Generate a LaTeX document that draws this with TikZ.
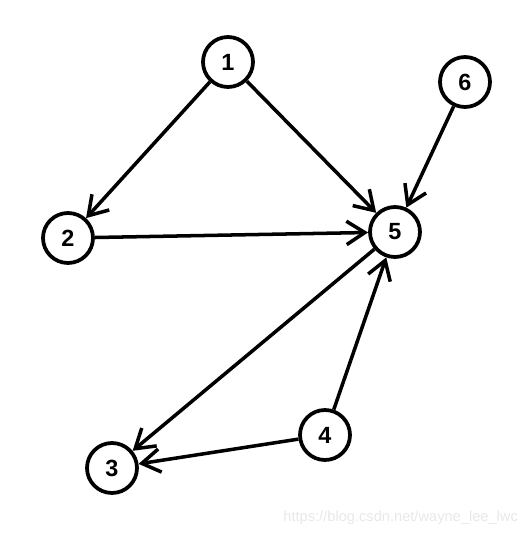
\documentclass[tikz,border=0pt]{standalone}
\usepackage{fontspec}
\setmainfont{Liberation Sans}
\usepackage{xcolor}
\usetikzlibrary{arrows.meta}
\definecolor{Ink}{HTML}{000000}
\definecolor{Faint}{HTML}{E8E8E8}
\tikzset{
  vertex/.style={draw=Ink,fill=white,circle,line width=3.2pt,minimum size=1.5cm,inner sep=0pt,font=\fontsize{20}{22}\selectfont\bfseries},
  edge/.style={-{Straight Barb[length=.55cm,width=.7cm]},draw=Ink,line width=3pt},
  stamp/.style={text=Faint,font=\fontsize{12.5}{14}\selectfont,anchor=east}
}

\begin{document}
\begin{tikzpicture}[x=.03cm,y=-.03cm]
  \useasboundingbox (0,0) rectangle (530,535);
  \node[vertex] (v1) at (228,62) {1};
  \node[vertex] (v6) at (465,82) {6};
  \node[vertex] (v2) at (68,238) {2};
  \node[vertex] (v5) at (395,232) {5};
  \node[vertex] (v4) at (325,435) {4};
  \node[vertex] (v3) at (112,468) {3};
  \draw[edge] (v1) -- (v2);
  \draw[edge] (v1) -- (v5);
  \draw[edge] (v2) -- (v5);
  \draw[edge] (v6) -- (v5);
  \draw[edge] (v4) -- (v5);
  \draw[edge] (v5) -- (v3);
  \draw[edge] (v4) -- (v3);
  \node[stamp] (wm) at (522,518) {https://blog.csdn.net/wayne\_lee\_lwc};
\end{tikzpicture}
\end{document}
